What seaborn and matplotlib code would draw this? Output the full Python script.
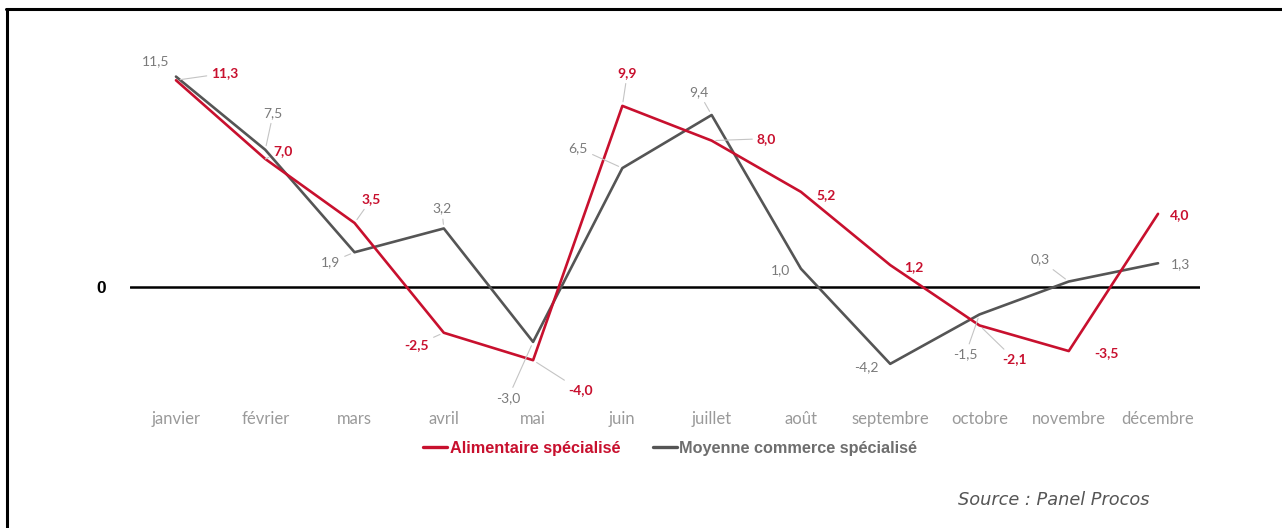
import matplotlib
matplotlib.use("Agg")
import matplotlib.pyplot as plt
import seaborn as sns
import pandas as pd
from matplotlib.lines import Line2D

# Monthly figures (%), two series
months = ["janvier", "février", "mars", "avril", "mai", "juin", "juillet",
          "août", "septembre", "octobre", "novembre", "décembre"]
alimentaire = [11.3, 7.0, 3.5, -2.5, -4.0, 9.9, 8.0, 5.2, 1.2, -2.1, -3.5, 4.0]
moyenne = [11.5, 7.5, 1.9, 3.2, -3.0, 6.5, 9.4, 1.0, -4.2, -1.5, 0.3, 1.3]
series_names = ["Alimentaire spécialisé", "Moyenne commerce spécialisé"]

RED = "#c8102e"
GREY = "#555555"
LABEL_GREY = "#7a7a7a"

# label offsets in pixels (dx, dy) and whether a leader line is drawn
red_offsets = [(49, 7, True), (18, 8, True), (17, 24, True), (-27, -12, True),
               (47, -30, True), (5, 33, True), (55, 2, True), (25, -3, False),
               (24, -2, False), (35, -34, True), (38, -2, False), (22, -1, False)]
grey_offsets = [(-20, 15, False), (8, 37, True), (-24, -10, True), (-2, 20, True),
                (-25, -56, True), (-44, 20, True), (-13, 23, True), (-20, -1, False),
                (-24, -3, False), (-14, -40, True), (-29, 22, True), (22, -1, False)]

df = pd.DataFrame({
    "mois": list(range(len(months))) * 2,
    "valeur": alimentaire + moyenne,
    "serie": [series_names[0]] * len(months) + [series_names[1]] * len(months),
})

sns.set_theme(style="white")
plt.rcParams["font.family"] = ["Lato", "DejaVu Sans"]

fig = plt.figure(figsize=(12.82, 5.28), dpi=100)
ax = fig.add_axes([130 / 1282, 128 / 528, 1070 / 1282, 360 / 528])

sns.lineplot(data=df, x="mois", y="valeur", hue="serie",
             palette={series_names[0]: RED, series_names[1]: GREY},
             hue_order=[series_names[1], series_names[0]],
             linewidth=1.9, sort=False, ax=ax, legend=False)

ax.axhline(0, color="black", lw=1.8, zorder=1)

ax.set_xlim(-0.515, 11.47)
ax.set_ylim(-6.175, 13.5)
ax.set_xticks(range(len(months)))
ax.set_xticklabels(months, color="#9a9a9a", fontsize=12, fontweight="normal")
ax.set_yticks([0])
ax.set_yticklabels(["0"], fontsize=12.5, fontweight="bold", color="black",
                   family=["Liberation Sans", "DejaVu Sans"])
ax.tick_params(axis="x", length=0, pad=8)
ax.tick_params(axis="y", length=0, pad=17)
ax.set_xlabel("")
ax.set_ylabel("")
for s in ax.spines.values():
    s.set_visible(False)

px = 72 / 100  # pixels to points


def label_series(values, offsets, color, weight):
    for i, (v, (dx, dy, leader)) in enumerate(zip(values, offsets)):
        txt = f"{v:.1f}".replace(".", ",")
        arrow = dict(arrowstyle="-", color="#c4c4c4", lw=0.8,
                     shrinkA=1, shrinkB=3) if leader else None
        ax.annotate(txt, xy=(i, v), xytext=(dx * px, dy * px),
                    textcoords="offset points", ha="center", va="center",
                    fontsize=10, color=color, fontweight=weight,
                    arrowprops=arrow, annotation_clip=False)


label_series(moyenne, grey_offsets, LABEL_GREY, "normal")
label_series(alimentaire, red_offsets, RED, "bold")

handles = [Line2D([], [], color=RED, lw=2.4), Line2D([], [], color=GREY, lw=2.4)]
leg = fig.legend(handles, series_names, loc="center", ncol=2,
                 bbox_to_anchor=(670 / 1282, 1 - 448 / 528), frameon=False,
                 handlelength=1.5, handletextpad=0.15, columnspacing=2.0,
                 prop={"size": 11.7, "weight": "bold",
                       "family": ["Liberation Sans", "DejaVu Sans"]})
leg.get_texts()[0].set_color(RED)
leg.get_texts()[1].set_color("#6e6e6e")

fig.text(1150 / 1282, 1 - 500 / 528, "Source : Panel Procos", ha="right",
         va="center", fontsize=12.8, style="italic", color="#555555",
         family=["DejaVu Sans"])

# frame lines along the top and left edge of the figure
fig.add_artist(Line2D([6 / 1282, 1], [1 - 9 / 528, 1 - 9 / 528],
                      color="black", lw=2.2, transform=fig.transFigure))
fig.add_artist(Line2D([7 / 1282, 7 / 1282], [0, 1 - 9 / 528],
                      color="black", lw=2.2, transform=fig.transFigure))

fig.savefig("out.png", dpi=100, facecolor="white")
